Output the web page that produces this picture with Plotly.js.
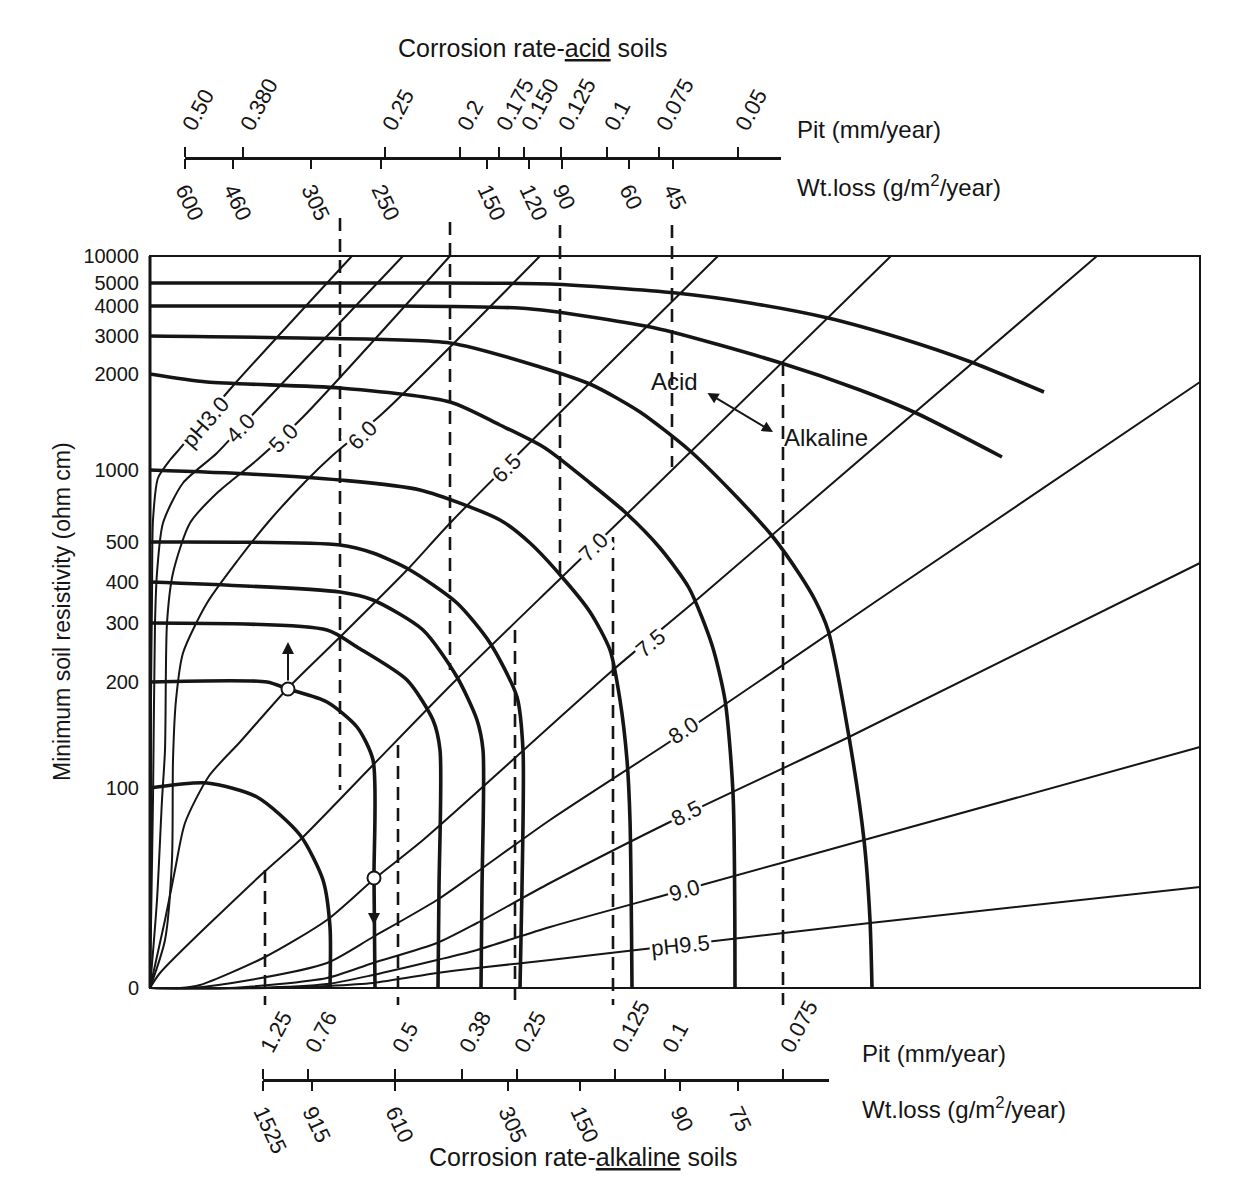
<!DOCTYPE html>
<html>
<head>
<meta charset="utf-8">
<script src="https://cdn.plot.ly/plotly-3.0.1.min.js"></script>
<style>html,body{margin:0;padding:0;background:#fff;}</style>
</head>
<body>
<div id="chart" style="width:1257px;height:1195px;"></div>
<script>
// ---------- DATA (positions in chart units: x 0..105 across, y 0..73.2 up) ----------
// Resistivity axis (nonlinear, tick positions and labels)
const yTickPos  = [73.2, 70.5, 68.2, 65.2, 61.4, 51.8, 44.6, 40.6, 36.5, 30.6, 20.0, 0];
const yTickText = ['10000','5000','4000','3000','2000','1000','500','400','300','200','100','0'];

// Top scale: corrosion rate, acid soils
const topPitPos  = [0, 58, 200, 275, 314, 339, 376, 422, 474, 553];
const topPitText = ['0.50','0.380','0.25','0.2','0.175','0.150','0.125','0.1','0.075','0.05'];
const topWtPos   = [0, 48, 126, 196, 302, 344, 377, 444, 488];
const topWtText  = ['600','460','305','250','150','120','90','60','45'];

// Bottom scale: corrosion rate, alkaline soils
const botPitPos  = [0, 45, 132, 199, 254, 352, 402, 520];
const botPitText = ['1.25','0.76','0.5','0.38','0.25','0.125','0.1','0.075'];
const botWtPos   = [0, 49, 132, 245, 317, 417, 475];
const botWtText  = ['1525','915','610','305','150','90','75'];

// Minimum soil resistivity curves [x, y]
const res5000 = [[0,70.5],[25,70.5],[40,70.4],[52.6,69.5],[60,68.5],[67.8,67],[75,65],[82.1,62.6],[89.4,59.6]];
const res4000 = [[0,68.2],[25,68.2],[36.9,68],[40,67.7],[50.5,66],[63.1,62.5],[71,59.8],[76.6,57.5],[85.2,53.1]];
const res3000 = [[0,65.2],[15,65],[30,64.5],[39,62.1],[44.2,60.3],[49,57.6],[53.9,53.8],[58,49.8],[62.3,45.1],[65,41.3],[66.5,38.8],[67.8,35.8],[69.9,25.1],[71.4,14.8],[72,6.8],[72.2,0]];
const res2000 = [[0,61.4],[5.7,60.6],[19,60],[30,58.6],[35,56.3],[39.5,54],[44,50.5],[47.6,47.5],[51,44],[53.9,40],[56.2,34.3],[57.5,28.8],[58.3,19.5],[58.5,0]];
const res1000 = [[0,51.8],[10,51.4],[19,50.8],[27,49.8],[35,46.8],[38,44.5],[41.2,41.1],[44,37.6],[46,33.8],[47,28.8],[47.7,22.8],[48,16.8],[48.2,0]];
const res500  = [[0,44.6],[19,44.3],[22.3,43.5],[26,41.8],[30.7,38.5],[34,34.5],[36.7,29.1],[37.3,23.8],[37.2,10],[37,0]];
const res400  = [[0,40.6],[19,39.6],[22.3,38.8],[27.3,35.8],[30.7,31.1],[32.7,26.8],[33.3,23.8],[33.2,10],[33.1,0]];
const res300  = [[0,36.5],[17.7,35.8],[20.7,34.1],[25.7,30.8],[28.3,26.8],[29,23.8],[28.9,10],[28.8,0]];
const res200  = [[0,30.6],[11.7,30.6],[13.8,29.9],[17.7,28.6],[20.7,26.1],[22.3,22.8],[22.4,11],[22.5,0]];
const res100  = [[0,20],[5.7,20.5],[10.7,19.1],[15,15.3],[17.3,10.8],[18,6.1],[18,0]];

// pH lines [x, y]
const ph30 = [[0,0],[0.1,13.8],[0.1,28.8],[0.2,38.8],[0.3,46.8],[0.8,51],[2,52.8],[2.7,53.6],[8.2,60.1],[20.2,73.2]];
const ph40 = [[0,0],[0.3,18.8],[0.5,36.5],[0.7,41.5],[1.3,46.5],[3.3,50.5],[6.7,53.5],[10.7,57.8],[25.3,73.2]];
const ph50 = [[0,0],[0.7,8.8],[1.2,18.8],[1.5,23.8],[1.7,36.5],[2.3,41.5],[4,46.5],[6.7,49.5],[10.7,52.8],[15.3,57.1],[30,73.2]];
const ph60 = [[0,0],[1.5,4.8],[2.2,12.8],[2.3,22.8],[2.6,28.8],[3.3,33.5],[5.7,38.5],[8.8,42.8],[12,46.8],[15.7,50.8],[18.3,53.3],[23.3,57.5],[39,73.2]];
const ph65 = [[0,0],[1.5,6.8],[2.5,11.8],[3.5,16.5],[5.9,21.2],[9,24.6],[13.8,30],[19,35.1],[25.7,41.8],[30.3,46.8],[56.8,73.2]];
const ph70 = [[0,0],[1,1.5],[11.3,11.5],[15,14.8],[22.3,22.3],[30.3,30.5],[41.2,41.1],[47.8,47.5],[74.1,73.2]];
const ph75 = [[0,0],[3,0],[5,0.3],[11.5,3.1],[17.7,6.8],[22.3,10.8],[27.3,14.8],[46.3,31.8],[55,39.1],[94.7,73.2]];
const ph80 = [[0,0],[4,0],[10,0.8],[17.7,2.5],[22.3,5.1],[28.7,8.8],[32.7,11.6],[40,16.8],[53,25.3],[72.8,38.8],[105,60.6]];
const ph85 = [[0,0],[8,0],[17.7,1],[22.3,2.5],[28.7,4.5],[32.7,6.5],[40,10.5],[53,17.1],[69.9,25.1],[105,42.5]];
const ph90 = [[0,0],[10,0],[17.7,0.4],[22.3,1.3],[28.7,2.8],[32.7,3.8],[40,6.1],[53,9.7],[71.4,14.8],[105,24.1]];
const ph95 = [[0,0],[12,0],[17.7,0.2],[22.3,0.5],[28.7,1.5],[32.7,2],[40,2.8],[53,4.3],[72,6.5],[105,10.1]];

// pH line labels
const phLabelText  = ['pH3.0','4.0','5.0','6.0','6.5','7.0','7.5','8.0','8.5','9.0','pH9.5'];
const phLabelX     = [5.5, 9.0, 13.3, 21.2, 35.6, 44.3, 50.0, 53.3, 53.6, 53.4, 53.0];
const phLabelY     = [56.6, 56.0, 55.0, 55.3, 52.0, 44.1, 34.5, 25.8, 17.5, 9.8, 4.3];
const phLabelAngle = [-49, -47, -45, -45, -45, -45, -40, -34, -27, -16, -6];

// Dashed reading lines (from top scale down, from bottom scale up)
const topDashX      = [19.0, 30.0, 41.0, 52.2];
const topDashTop    = [77.0, 76.6, 76.3, 76.3];
const topDashBottom = [19.8, 31.8, 41.5, 52.1];
const botDashX      = [11.5, 24.8, 36.5, 46.3, 63.3];
const botDashTop    = [11.8, 24.3, 35.8, 45.1, 62.5];
const botDashBottom = [-1.7, -1.7, -1.7, -1.7, -1.7];

// Example points (open circles)
const pointX = [13.8, 22.4];
const pointY = [29.9, 11.0];

// ---------- FIGURE ----------
const FONT = 'Liberation Sans, Arial, Helvetica, sans-serif';
const INK = '#151515';
const W = 1257, H = 1195;

function line(pts, width, extra) {
  return Object.assign({
    type: 'scatter', mode: 'lines', hoverinfo: 'skip',
    x: pts.map(p => p[0]), y: pts.map(p => p[1]),
    line: { color: INK, width: width, shape: 'spline', smoothing: 0.7 },
    xaxis: 'x', yaxis: 'y'
  }, extra || {});
}

const traces = [];
[ph30, ph40, ph50, ph60, ph65, ph70, ph75, ph80, ph85, ph90, ph95].forEach(p => traces.push(line(p, 2)));
[res5000, res4000, res3000, res2000, res1000, res500, res400, res300, res200, res100].forEach(p => traces.push(line(p, 3.6)));

// dashed lines as one trace
function dashTrace(xs, tops, bots) {
  const x = [], y = [];
  xs.forEach((v, i) => { x.push(v, v, null); y.push(tops[i], bots[i], null); });
  return { type: 'scatter', mode: 'lines', hoverinfo: 'skip', x: x, y: y,
    line: { color: INK, width: 2.6, dash: '13px,8px' }, xaxis: 'x', yaxis: 'y', connectgaps: false };
}
traces.push(dashTrace(topDashX, topDashTop, topDashBottom));
traces.push(dashTrace(botDashX, botDashTop, botDashBottom));

traces.push({ type: 'scatter', mode: 'markers', hoverinfo: 'skip', x: pointX, y: pointY,
  marker: { symbol: 'circle', size: 13, color: '#fff', line: { color: INK, width: 2 } },
  xaxis: 'x', yaxis: 'y', cliponaxis: false });

// dummy traces to create the scale axes
['x2','x3','x4','x5'].forEach(ax => traces.push({ type: 'scatter', mode: 'markers', x: [null], y: [null],
  xaxis: ax, yaxis: 'y', hoverinfo: 'skip', showlegend: false }));

// geometry of the main plot (in pixels)
const xPix0 = 145, xPix1 = 1205;       // x range -0.5 .. 105.5
const yPixTop = 208, yPixBot = 1013;   // y range 78 .. -2.5

function scaleAxis(d0, d1, rng, pos, side, vals, text, angle, showline) {
  return {
    domain: [d0 / W, d1 / W], range: rng, anchor: 'free', position: pos, side: side,
    showline: showline, linecolor: INK, linewidth: 2.5,
    ticks: 'outside', ticklen: 10, tickwidth: 2, tickcolor: INK,
    tickmode: 'array', tickvals: vals, ticktext: text, tickangle: angle,
    tickfont: { family: FONT, size: 22, color: INK },
    showgrid: false, zeroline: false, fixedrange: true
  };
}

const topPos = (H - 158) / H;
const botPos = (H - 1080) / H;

const layout = {
  width: W, height: H,
  margin: { l: 0, r: 0, t: 0, b: 0 },
  paper_bgcolor: '#fff', plot_bgcolor: 'rgba(0,0,0,0)',
  showlegend: false,
  font: { family: FONT, color: INK },
  xaxis: { domain: [xPix0 / W, xPix1 / W], range: [-0.5, 105.5], showgrid: false, zeroline: false,
    showticklabels: false, ticks: '', showline: false, fixedrange: true },
  yaxis: { domain: [(H - yPixBot) / H, (H - yPixTop) / H], range: [-2.5, 78], showgrid: false, zeroline: false,
    showline: false, ticks: '', tickmode: 'array', tickvals: yTickPos, ticktext: yTickText,
    tickfont: { family: FONT, size: 20, color: INK }, ticklabelstandoff: 5, fixedrange: true },
  xaxis2: scaleAxis(185, 781, [0, 596], topPos, 'top', topPitPos, topPitText, -62, true),
  xaxis3: scaleAxis(185, 781, [0, 596], topPos, 'bottom', topWtPos, topWtText, 65, false),
  xaxis4: scaleAxis(263, 829, [0, 566], botPos, 'top', botPitPos, botPitText, -62, true),
  xaxis5: scaleAxis(263, 829, [0, 566], botPos, 'bottom', botWtPos, botWtText, 65, false),
  shapes: [
    { type: 'rect', xref: 'x', yref: 'y', x0: 0, x1: 105, y0: 0, y1: 73.2,
      line: { color: INK, width: 2 }, fillcolor: 'rgba(0,0,0,0)', layer: 'above' },
    { type: 'line', xref: 'x', yref: 'y', x0: 0, x1: 0, y0: 0, y1: 73.2,
      line: { color: INK, width: 3 }, layer: 'above' }
  ],
  annotations: []
};

const A = layout.annotations;
function paperText(text, px, py, size, xanchor, extra) {
  A.push(Object.assign({ xref: 'paper', yref: 'paper', x: px / W, y: (H - py) / H, text: text,
    showarrow: false, xanchor: xanchor, yanchor: 'middle', font: { family: FONT, size: size, color: INK } }, extra || {}));
}
paperText('Corrosion rate-<u>acid</u> soils', 533, 48, 25, 'center');
paperText('Pit (mm/year)', 795, 130, 24, 'left');
paperText('Wt.loss (g/m<sup>2</sup>/year)', 795, 186, 24, 'left');
paperText('Pit (mm/year)', 860, 1053, 24, 'left');
paperText('Wt.loss (g/m<sup>2</sup>/year)', 860, 1108, 24, 'left');
paperText('Corrosion rate-<u>alkaline</u> soils', 583, 1157, 25, 'center');
paperText('Minimum soil resistivity (ohm cm)', 62, 612, 23, 'center', { textangle: -90 });

// pH labels
phLabelText.forEach((t, i) => A.push({ xref: 'x', yref: 'y', x: phLabelX[i], y: phLabelY[i], text: t,
  showarrow: false, textangle: phLabelAngle[i], bgcolor: '#fff', borderpad: 1,
  font: { family: FONT, size: 22, color: INK } }));

// Acid / Alkaline
A.push({ xref: 'x', yref: 'y', x: 52.4, y: 60.7, text: 'Acid', showarrow: false, font: { family: FONT, size: 24, color: INK } });
A.push({ xref: 'x', yref: 'y', x: 67.6, y: 55.1, text: 'Alkaline', showarrow: false, font: { family: FONT, size: 24, color: INK } });
A.push({ xref: 'x', yref: 'y', axref: 'x', ayref: 'y', x: 62.3, y: 55.6, ax: 55.6, ay: 59.6, text: '',
  showarrow: true, arrowhead: 2, startarrowhead: 2, arrowside: 'end+start', arrowsize: 1.1, arrowwidth: 2, arrowcolor: INK,
  standoff: 0, startstandoff: 0 });

// arrows from the example points
A.push({ xref: 'x', yref: 'y', axref: 'x', ayref: 'y', x: 13.8, y: 34.6, ax: 13.8, ay: 30.6, text: '',
  showarrow: true, arrowhead: 2, arrowsize: 1.2, arrowwidth: 2, arrowcolor: INK, standoff: 0 });
A.push({ xref: 'x', yref: 'y', axref: 'x', ayref: 'y', x: 22.4, y: 6.3, ax: 22.4, ay: 10.3, text: '',
  showarrow: true, arrowhead: 2, arrowsize: 1.2, arrowwidth: 2, arrowcolor: INK, standoff: 0 });

Plotly.newPlot('chart', traces, layout, { staticPlot: true, displayModeBar: false });
</script>
</body>
</html>
